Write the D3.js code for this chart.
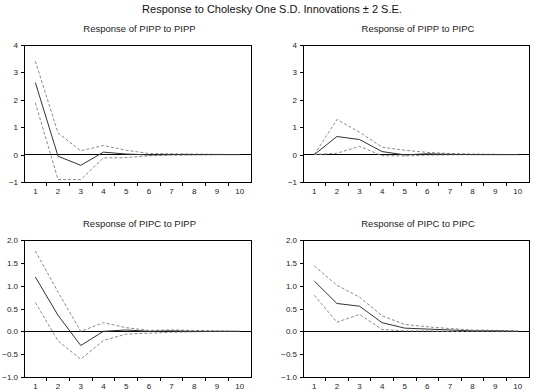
<!DOCTYPE html>
<html>
<head>
<meta charset="utf-8">
<script src="https://cdn.jsdelivr.net/npm/d3@7"></script>
<style>
  body { margin: 0; background: #fff; }
  svg { display: block; font-family: "Liberation Sans", Arial, sans-serif; }
</style>
</head>
<body>
<div id="chart"></div>
<script>
const periods = [1, 2, 3, 4, 5, 6, 7, 8, 9, 10];

// Response of PIPP to PIPP
const ppResp  = [2.63, -0.06, -0.39, 0.09, 0.02, -0.01, 0.0, 0.0, 0.0, 0.0];
const ppUpper = [3.41, 0.79, 0.14, 0.33, 0.16, 0.04, 0.03, 0.02, 0.01, 0.0];
const ppLower = [1.89, -0.91, -0.91, -0.12, -0.11, -0.04, -0.02, -0.01, 0.0, 0.0];

// Response of PIPP to PIPC
const pcResp  = [0.0, 0.66, 0.55, 0.11, -0.01, 0.03, 0.01, 0.0, 0.0, 0.0];
const pcUpper = [0.0, 1.28, 0.82, 0.27, 0.16, 0.08, 0.04, 0.02, 0.01, 0.0];
const pcLower = [0.0, 0.05, 0.3, -0.04, -0.05, -0.02, -0.01, 0.0, 0.0, 0.0];

// Response of PIPC to PIPP
const cpResp  = [1.19, 0.35, -0.31, 0.0, 0.03, 0.0, 0.01, 0.0, 0.0, 0.0];
const cpUpper = [1.76, 0.86, 0.0, 0.19, 0.08, 0.02, 0.03, 0.02, 0.01, 0.0];
const cpLower = [0.63, -0.21, -0.61, -0.2, -0.06, -0.04, -0.02, -0.01, 0.0, 0.0];

// Response of PIPC to PIPC
const ccResp  = [1.1, 0.61, 0.55, 0.19, 0.07, 0.05, 0.03, 0.01, 0.01, 0.0];
const ccUpper = [1.43, 1.01, 0.75, 0.34, 0.15, 0.1, 0.06, 0.03, 0.02, 0.01];
const ccLower = [0.79, 0.2, 0.37, 0.04, 0.01, 0.01, 0.0, 0.0, 0.0, 0.0];

const topTicks = [-1, 0, 1, 2, 3, 4];
const bottomTicks = [-1.0, -0.5, 0.0, 0.5, 1.0, 1.5, 2.0];

const mainTitle = 'Response to Cholesky One S.D. Innovations \u00b1 2 S.E.';

const panels = [
  { title: 'Response of PIPP to PIPP', resp: ppResp, upper: ppUpper, lower: ppLower, ticks: topTicks, fmt: d3.format('d'), x0: 24, x1: 251, y0: 45, y1: 182 },
  { title: 'Response of PIPP to PIPC', resp: pcResp, upper: pcUpper, lower: pcLower, ticks: topTicks, fmt: d3.format('d'), x0: 303, x1: 529, y0: 45, y1: 182 },
  { title: 'Response of PIPC to PIPP', resp: cpResp, upper: cpUpper, lower: cpLower, ticks: bottomTicks, fmt: d3.format('.1f'), x0: 24, x1: 251, y0: 240, y1: 377 },
  { title: 'Response of PIPC to PIPC', resp: ccResp, upper: ccUpper, lower: ccLower, ticks: bottomTicks, fmt: d3.format('.1f'), x0: 303, x1: 529, y0: 240, y1: 377 }
];

const svg = d3.select('#chart').append('svg')
  .attr('width', 538)
  .attr('height', 392);

svg.append('text')
  .attr('x', 272).attr('y', 13)
  .attr('text-anchor', 'middle')
  .attr('font-size', 11)
  .attr('fill', '#111')
  .text(mainTitle);

panels.forEach(p => {
  const x = d3.scaleBand().domain(periods).range([p.x0, p.x1]);
  const y = d3.scaleLinear().domain([p.ticks[0], p.ticks[p.ticks.length - 1]]).range([p.y1, p.y0]);
  const cx = d => x(d) + x.bandwidth() / 2;

  const g = svg.append('g');

  g.append('text')
    .attr('x', (p.x0 + p.x1) / 2 + 2).attr('y', p.y0 - 13)
    .attr('text-anchor', 'middle')
    .attr('font-size', 9.5)
    .attr('fill', '#222')
    .text(p.title);

  // frame
  g.append('rect')
    .attr('x', p.x0).attr('y', p.y0)
    .attr('width', p.x1 - p.x0).attr('height', p.y1 - p.y0)
    .attr('fill', 'none').attr('stroke', '#000').attr('stroke-width', 1)
    .attr('shape-rendering', 'crispEdges');

  // y axis
  const ya = g.append('g')
    .attr('transform', 'translate(' + p.x0 + ',0)')
    .call(d3.axisLeft(y).tickValues(p.ticks).tickFormat(p.fmt).tickSize(3).tickPadding(3));
  ya.select('.domain').remove();
  ya.selectAll('text').attr('font-size', 8).attr('fill', '#222').attr('font-family', '"Liberation Sans", Arial, sans-serif');
  ya.selectAll('line').attr('shape-rendering', 'crispEdges');

  // x axis: labels centered, ticks at band edges
  const xa = g.append('g')
    .attr('transform', 'translate(0,' + p.y1 + ')')
    .call(d3.axisBottom(x).tickSize(0).tickPadding(6));
  xa.select('.domain').remove();
  xa.selectAll('text').attr('font-size', 8).attr('fill', '#222').attr('font-family', '"Liberation Sans", Arial, sans-serif');
  g.selectAll('.edge')
    .data(periods.slice(1))
    .enter().append('line')
    .attr('x1', d => x(d)).attr('x2', d => x(d))
    .attr('y1', p.y1).attr('y2', p.y1 + 4)
    .attr('stroke', '#000')
    .attr('shape-rendering', 'crispEdges');

  // zero line
  g.append('line')
    .attr('x1', p.x0).attr('x2', p.x1)
    .attr('y1', y(0)).attr('y2', y(0))
    .attr('stroke', '#000').attr('stroke-width', 1)
    .attr('shape-rendering', 'crispEdges');

  const line = d3.line().x((d, i) => cx(periods[i])).y(d => y(d));

  [p.upper, p.lower].forEach(s => {
    g.append('path')
      .attr('d', line(s))
      .attr('fill', 'none')
      .attr('stroke', '#8a8a8a')
      .attr('stroke-width', 1)
      .attr('stroke-dasharray', '3,2');
  });

  g.append('path')
    .attr('d', line(p.resp))
    .attr('fill', 'none')
    .attr('stroke', '#333')
    .attr('stroke-width', 1);
});
</script>
</body>
</html>
